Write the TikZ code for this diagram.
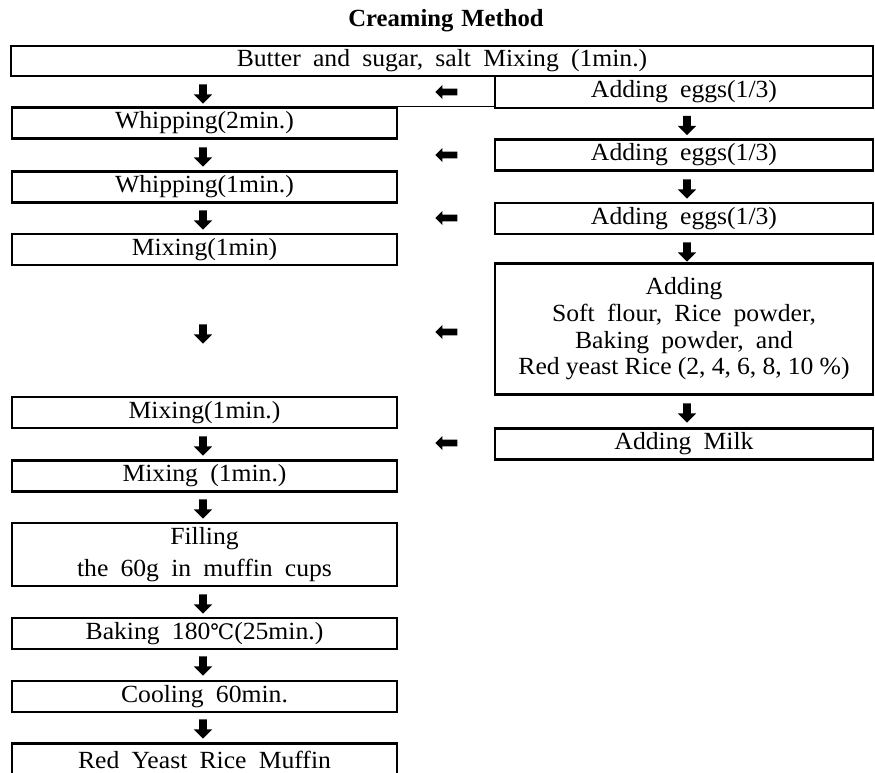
\documentclass[tikz,border=0pt]{standalone}
\usepackage{fontspec}
\setmainfont{Liberation Serif}[FakeStretch=1.04,WordSpace=1.9]
\newfontfamily\titlefont{Liberation Serif}[WordSpace=1.3]
\newfontfamily\symfont{DejaVu Serif}
\usetikzlibrary{shapes.arrows}
\begin{document}
\begin{tikzpicture}[x=0.75pt,y=-0.75pt,
  txt/.style={inner sep=0pt, align=center, font=\fontsize{18.5}{20}\selectfont},
  box/.style={txt, draw, line width=2.1pt},
  lbox/.style={box, minimum width=288.75pt, minimum height=23.25pt},
  rbox/.style={box, minimum width=283.5pt, minimum height=23.25pt},
  darr/.style={single arrow, fill=black, draw=none, inner sep=2.7pt, minimum height=14.5pt, single arrow head extend=4pt, shape border rotate=270},
  larr/.style={single arrow, fill=black, draw=none, inner sep=2.3pt, minimum height=16.5pt, single arrow head extend=2.8pt, shape border rotate=180},
]
\useasboundingbox (0,0) rectangle (875,773);
\node[font=\titlefont\bfseries\fontsize{18.5}{20}\selectfont] (title) at (446,21) {Creaming Method};
\node[box, minimum width=646.5pt, minimum height=22.5pt] (top) at (442,61) {Butter and sugar, salt Mixing (1min.)};
% left column
\node[lbox] (w2) at (204.5,123) {Whipping(2min.)};
\node[lbox] (w1) at (204.5,187) {Whipping(1min.)};
\node[lbox] (m1) at (204.5,249.5) {Mixing(1min)};
\node[lbox] (m2) at (204.5,412.5) {Mixing(1min.)};
\node[lbox] (m3) at (204.5,476) {Mixing (1min.)};
\node[lbox, minimum height=47.25pt, font=\fontsize{18.5}{23.5}\selectfont] (fill) at (204.5,554.5) {Filling\\the 60g in muffin cups};
\node[lbox] (bake) at (204.5,633.5) {Baking 180{\symfont\fontsize{16}{20}\selectfont ℃}(25min.)};
\node[lbox] (cool) at (204.5,696.5) {Cooling 60min.};
\node[lbox, minimum height=30pt, anchor=north] (muffin) at (204.5,742) {};
\node[txt] (muffintext) at (204.5,760) {Red Yeast Rice Muffin};
% right column
\node[rbox, minimum height=24pt] (e1) at (684,92) {Adding eggs(1/3)};
\node[rbox] (e2) at (684,155) {Adding eggs(1/3)};
\node[rbox] (e3) at (684,218.5) {Adding eggs(1/3)};
\node[rbox, minimum height=98.25pt, font=\fontsize{18.5}{20}\selectfont] (add) at (684,329) {Adding\\Soft flour, Rice powder,\\Baking powder, and\\{\spaceskip=4.6pt\relax Red yeast Rice (2, 4, 6, 8, 10 \%)}};
\node[rbox] (milk) at (684,444) {Adding Milk};
\draw[line width=0.7pt] (w2.north east) -- (w2.north east -| e1.south west);
% down arrows, left column
\node[darr] (dl1) at (203,92) {};
\node[darr] (dl2) at (203,155) {};
\node[darr] (dl3) at (203,218) {};
\node[darr] (dl4) at (203,332) {};
\node[darr] (dl5) at (203,444) {};
\node[darr] (dl6) at (203,507) {};
\node[darr] (dl7) at (203,602) {};
\node[darr] (dl8) at (203,664) {};
\node[darr] (dl9) at (203,727) {};
% down arrows, right column
\node[darr] (dr1) at (687,123.5) {};
\node[darr] (dr2) at (687,187) {};
\node[darr] (dr3) at (687,250) {};
\node[darr] (dr4) at (687,411) {};
% left arrows
\node[larr] (la1) at (448,92) {};
\node[larr] (la2) at (448,155) {};
\node[larr] (la3) at (448,218) {};
\node[larr] (la4) at (448,332) {};
\node[larr] (la5) at (448,443) {};
\end{tikzpicture}
\end{document}
